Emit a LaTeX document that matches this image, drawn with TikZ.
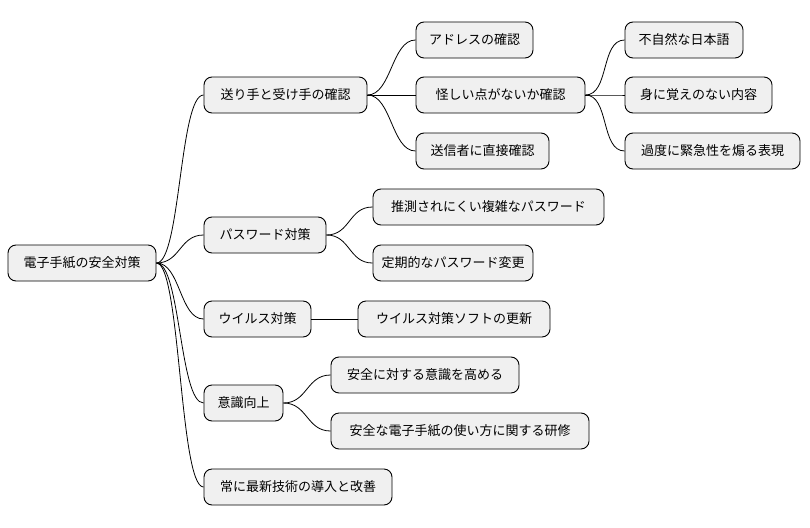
\documentclass[tikz,border=0pt]{standalone}
\usepackage{fontspec}
\setmainfont{Noto Sans CJK JP}
\begin{document}
\begin{tikzpicture}[x=1pt,y=-1pt,
  box/.style={draw=black,line width=0.9pt,fill=black!6,rounded corners=8pt,minimum height=36pt,inner sep=0pt,font=\fontsize{13}{15}\selectfont},
  ln/.style={draw=black,line width=0.8pt}]
\path[use as bounding box,fill=white] (0,0) rectangle (810,527);
\node[box,minimum width=148] (r) at (82,263) {電子手紙の安全対策};
\node[box,minimum width=163] (a) at (285.5,95) {送り手と受け手の確認};
\node[box,minimum width=117] (a1) at (474.5,40) {アドレスの確認};
\node[box,minimum width=169] (a2) at (500.5,95) {怪しい点がないか確認};
\node[box,minimum width=133] (a3) at (482.5,151) {送信者に直接確認};
\node[box,minimum width=118] (b1) at (684,40) {不自然な日本語};
\node[box,minimum width=147] (b2) at (698.5,95) {身に覚えのない内容};
\node[box,minimum width=175] (b3) at (712.5,151) {過度に緊急性を煽る表現};
\node[box,minimum width=122] (p) at (265,235) {パスワード対策};
\node[box,minimum width=231] (p1) at (488.5,207) {推測されにくい複雑なパスワード};
\node[box,minimum width=160] (p2) at (453,263) {定期的なパスワード変更};
\node[box,minimum width=107] (v) at (257.5,319) {ウイルス対策};
\node[box,minimum width=192] (v1) at (454,319) {ウイルス対策ソフトの更新};
\node[box,minimum width=79] (i) at (243.5,403) {意識向上};
\node[box,minimum width=188] (i1) at (425,375) {安全に対する意識を高める};
\node[box,minimum width=258] (i2) at (460,431) {安全な電子手紙の使い方に関する研修};
\node[box,minimum width=188] (t) at (298,487) {常に最新技術の導入と改善};
\foreach \s/\d in {r/a,r/p,r/v,r/i,r/t,a/a1,a/a2,a/a3,a2/b1,a2/b2,a2/b3,p/p1,p/p2,v/v1,i/i1,i/i2}
  \draw[ln] (\s.east) .. controls +(24,0) and +(-24,0) .. (\d.west);
\end{tikzpicture}
\end{document}
